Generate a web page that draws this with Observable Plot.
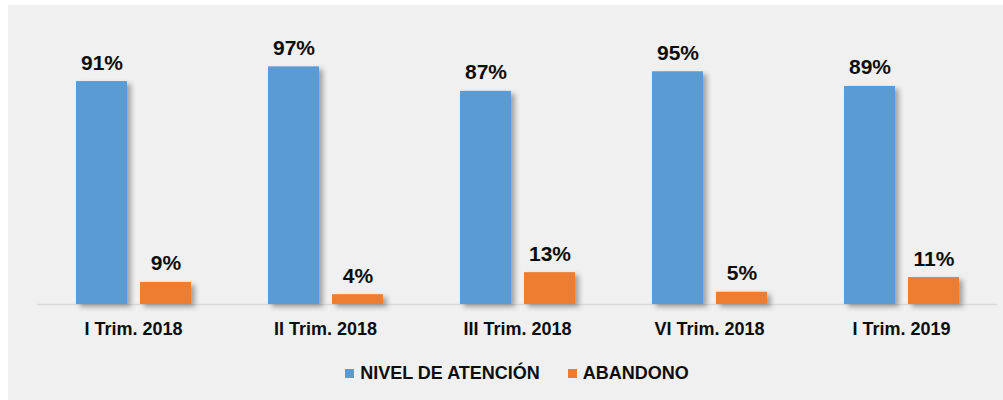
<!DOCTYPE html>
<html>
<head>
<meta charset="utf-8">
<script src="https://cdn.jsdelivr.net/npm/d3@7"></script>
<script src="https://cdn.jsdelivr.net/npm/@observablehq/plot@0.6"></script>
<style>
  html, body { margin: 0; padding: 0; background: #ffffff; }
  #panel {
    position: absolute; left: 8px; top: 5px; width: 995px; height: 395px;
    background: #f0f0f0;
    font-family: "Liberation Sans", Arial, sans-serif;
  }
  #panel svg { display: block; overflow: visible; }
  #panel svg g[aria-label="bar"] rect { filter: drop-shadow(4px 3px 2.5px rgba(0,0,0,0.32)); }
  .legend {
    display: flex; justify-content: center; align-items: center;
    margin: 18px 5px 0 28px; height: 20px;
    font-size: 18px; font-weight: bold; color: #0d0d0d;
  }
  .legend .item { display: flex; align-items: center; margin: 0 14px; }
  .legend .sw { width: 9px; height: 9px; margin-right: 6px; }
</style>
</head>
<body>
<div id="panel"></div>
<script>
const categories = ["I Trim. 2018", "II Trim. 2018", "III Trim. 2018", "VI Trim. 2018", "I Trim. 2019"];
const series = ["NIVEL DE ATENCIÓN", "ABANDONO"];
const nivelAtencion = [0.91, 0.97, 0.87, 0.95, 0.89];
const abandono = [0.09, 0.04, 0.13, 0.05, 0.11];
const colors = ["#5b9bd5", "#ed7d31"];

const data = [];
categories.forEach((c, i) => {
  data.push({cat: c, serie: series[0], value: nivelAtencion[i]});
  data.push({cat: c, serie: series[1], value: abandono[i]});
});

const chart = Plot.plot({
  width: 995,
  height: 340,
  marginLeft: 28,
  marginRight: 5,
  marginTop: 54,
  marginBottom: 41,
  style: {background: "transparent", fontFamily: "'Liberation Sans', Arial, sans-serif", fontSize: "18px", fontWeight: "bold", color: "#0d0d0d", overflow: "visible"},
  fx: {domain: categories, padding: 0, label: null, axis: "bottom", tickSize: 0, tickPadding: 18},
  x: {domain: series, paddingInner: 0.207, paddingOuter: 0.6, axis: null},
  y: {domain: [0, 1], axis: null},
  color: {domain: series, range: colors},
  marks: [
    Plot.ruleY([0], {stroke: "#d9d9d9", strokeWidth: 1.5}),
    Plot.barY(data, {fx: "cat", x: "serie", y: "value", fill: "serie"}),
    Plot.text(data, {
      fx: "cat", x: "serie", y: "value",
      text: d => Math.round(d.value * 100) + "%",
      lineAnchor: "bottom", dy: -12, fontSize: 21, fontWeight: "bold", fill: "#0d0d0d"
    })
  ]
});

const panel = document.getElementById("panel");
panel.appendChild(chart);

const legend = document.createElement("div");
legend.className = "legend";
series.forEach((s, i) => {
  const item = document.createElement("div");
  item.className = "item";
  const sw = document.createElement("span");
  sw.className = "sw";
  sw.style.background = colors[i];
  const label = document.createElement("span");
  label.textContent = s;
  item.appendChild(sw);
  item.appendChild(label);
  legend.appendChild(item);
});
panel.appendChild(legend);
</script>
</body>
</html>
